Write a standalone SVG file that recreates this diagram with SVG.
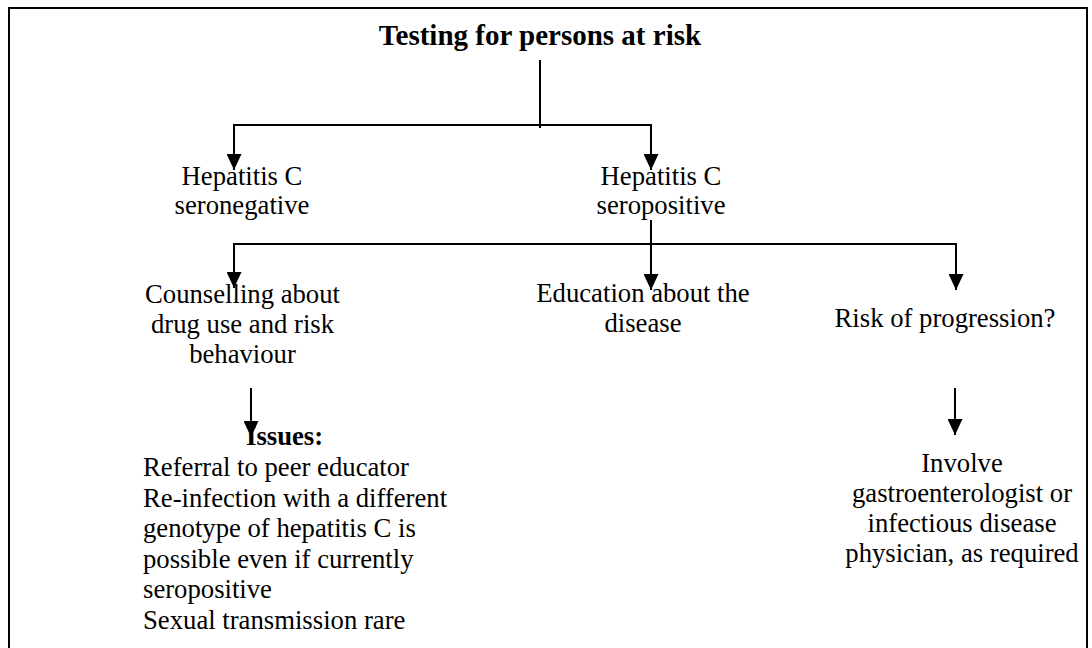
<svg xmlns="http://www.w3.org/2000/svg" width="1092" height="648" viewBox="0 0 1092 648">
<defs>
<marker id="ah" markerWidth="16" markerHeight="15" refX="16" refY="7.5" orient="auto" markerUnits="userSpaceOnUse" viewBox="0 0 16 15">
<path d="M0,0 L16,7.5 L0,15 Z" fill="#000"/>
</marker>
<style>
text{font-family:"Liberation Serif","Times New Roman",serif;font-size:26.7px;fill:#000}
.b{font-weight:bold}
.t{font-size:29px}
.c{text-anchor:middle}
.ln{stroke:#000;stroke-width:2;fill:none}
.ar{stroke:#000;stroke-width:2;fill:none;marker-end:url(#ah)}
</style>
</defs>
<rect width="1092" height="648" fill="#fff"/>
<path d="M9,660 V8 H1087 V660" fill="none" stroke="#000" stroke-width="2"/>
<g id="connectors">
<path class="ln" d="M540,60 V128"/>
<path class="ln" d="M234,125 H651"/>
<path class="ar" d="M234,124 V170"/>
<path class="ar" d="M651,124 V170"/>
<path class="ln" d="M234,244 H956"/>
<path class="ar" d="M234,243 V288"/>
<path class="ar" d="M956,243 V290"/>
<path class="ar" d="M651,220 V290"/>
<path class="ar" d="M251,388 V437"/>
<path class="ar" d="M955,388 V435"/>
</g>
<g id="n-testing"><text class="b c t" x="540" y="45">Testing for persons at risk</text></g>
<g id="n-seroneg"><text class="c" x="242" y="185">Hepatitis C</text><text class="c" x="242" y="214">seronegative</text></g>
<g id="n-seropos"><text class="c" x="661" y="185">Hepatitis C</text><text class="c" x="661" y="214">seropositive</text></g>
<g id="n-counselling"><text class="c" x="242.5" y="303">Counselling about</text><text class="c" x="242.5" y="333">drug use and risk</text><text class="c" x="242.5" y="363">behaviour</text></g>
<g id="n-education"><text class="c" x="643" y="302">Education about the</text><text class="c" x="643" y="332">disease</text></g>
<g id="n-risk"><text class="c" x="945" y="327">Risk of progression?</text></g>
<g id="n-involve"><text class="c" x="962" y="472">Involve</text><text class="c" x="962" y="502">gastroenterologist or</text><text class="c" x="962" y="532">infectious disease</text><text class="c" x="962" y="562">physician, as required</text></g>
<g id="n-issues">
<text class="b" x="246" y="445">Issues:</text>
<text x="143" y="476">Referral to peer educator</text>
<text x="143" y="506.5">Re-infection with a different</text>
<text x="143" y="537">genotype of hepatitis C is</text>
<text x="143" y="567.5">possible even if currently</text>
<text x="143" y="598">seropositive</text>
<text x="143" y="628.5">Sexual transmission rare</text>
</g>
</svg>
